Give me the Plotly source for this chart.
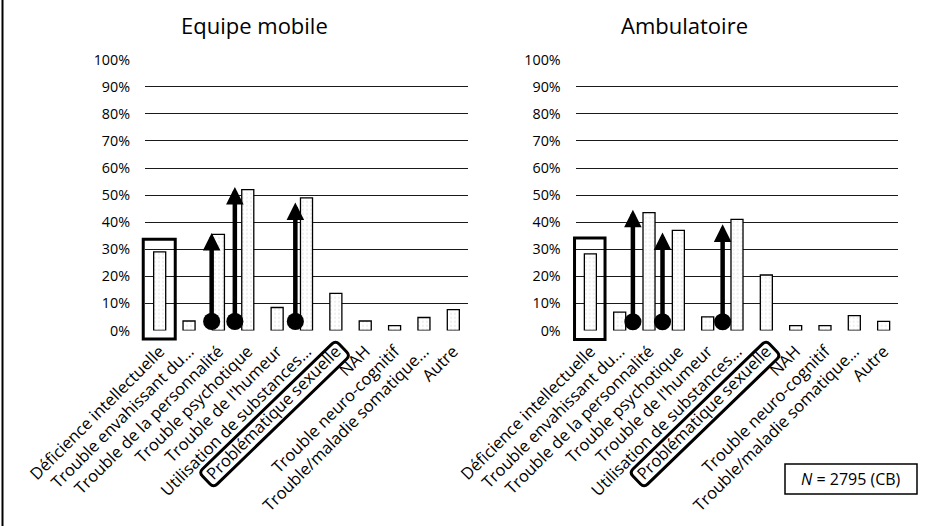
import plotly.graph_objects as go
import math

# ---------------- data ----------------
categories = [
    "Déficience intellectuelle",
    "Trouble envahissant du...",
    "Trouble de la personnalité",
    "Trouble psychotique",
    "Trouble de l'humeur",
    "Utilisation de substances...",
    "Problématique sexuelle",
    "NAH",
    "Trouble neuro-cognitif",
    "Trouble/maladie somatique...",
    "Autre",
]
equipe_mobile = [0.29, 0.035, 0.355, 0.52, 0.085, 0.49, 0.137, 0.035, 0.018, 0.048, 0.077]
ambulatoire = [0.283, 0.068, 0.435, 0.37, 0.05, 0.41, 0.205, 0.018, 0.018, 0.055, 0.034]
y_ticks = [0.0, 0.1, 0.2, 0.3, 0.4, 0.5, 0.6, 0.7, 0.8, 0.9, 1.0]
titles = ["Equipe mobile", "Ambulatoire"]

# arrows: (x in category units, start value, tip value)
arrows_em = [(1.77, 0.028, 0.36), (2.56, 0.028, 0.53), (4.62, 0.028, 0.473)]
arrows_amb = [(1.45, 0.027, 0.446), (2.46, 0.027, 0.362), (4.51, 0.027, 0.392)]
# highlight rectangle around first category: (x0, x1, y0, y1)
highlight_em = (-0.56, 0.53, -0.031, 0.337)
highlight_amb = (-0.54, 0.50, -0.033, 0.342)
label_box_cat = 6
n_label = "<i>N</i> = 2795 (CB)"

# ---------------- layout geometry ----------------
W, H = 945, 526
x_range = [-0.5, 10.5]
y_range = [0.0, 1.0]
dom_x1 = [145.0 / W, 468.0 / W]
dom_x2 = [575.7 / W, 898.3 / W]
dom_y = [(H - 330.5) / H, (H - 59.7) / H]

FONT = "Open Sans"

fig = go.Figure()

bar_style = dict(
    marker=dict(
        color="white",
        line=dict(color="black", width=1.3),
        pattern=dict(shape=".", fgcolor="#b0b0b0", bgcolor="white", size=4, solidity=0.12),
    ),
    showlegend=False,
    width=0.41,
)
xs = list(range(len(categories)))
fig.add_trace(go.Bar(x=xs, y=equipe_mobile, xaxis="x", yaxis="y", **bar_style))
fig.add_trace(go.Bar(x=xs, y=ambulatoire, xaxis="x2", yaxis="y2", **bar_style))

xaxis_common = dict(
    range=x_range,
    tickmode="array",
    tickvals=xs,
    ticktext=categories,
    tickangle=-45,
    showgrid=False,
    zeroline=False,
    showline=False,
    ticks="",
    automargin=False,
    ticklabelstandoff=7,
    tickfont=dict(family=FONT, size=16.5, color="black"),
)
yaxis_common = dict(
    range=y_range,
    tickmode="array",
    tickvals=y_ticks,
    tickformat=".0%",
    showgrid=True,
    gridcolor="#1a1a1a",
    gridwidth=1,
    zeroline=False,
    showline=False,
    ticks="",
    automargin=False,
    ticklabelstandoff=14,
    tickfont=dict(family=FONT, size=14.3, color="black"),
    domain=dom_y,
)

fig.update_layout(
    width=W,
    height=H,
    margin=dict(l=0, r=0, t=0, b=0, autoexpand=False),
    paper_bgcolor="white",
    plot_bgcolor="white",
    bargap=0.59,
    xaxis=dict(domain=dom_x1, anchor="y", **xaxis_common),
    yaxis=dict(anchor="x", **yaxis_common),
    xaxis2=dict(domain=dom_x2, anchor="y2", **xaxis_common),
    yaxis2=dict(anchor="x2", **yaxis_common),
)


def data_to_paper(dom, xv, yv):
    fx = (xv - x_range[0]) / (x_range[1] - x_range[0])
    fy = (yv - y_range[0]) / (y_range[1] - y_range[0])
    return dom[0] + fx * (dom[1] - dom[0]), dom_y[0] + fy * (dom_y[1] - dom_y[0])


annotations = []
shapes = []

# titles
for i, t in enumerate(titles):
    cx = [254.5, 684.0][i] / W
    annotations.append(dict(
        text=t, x=cx, y=1 - 25 / H, xref="paper", yref="paper",
        xanchor="center", yanchor="middle", showarrow=False,
        font=dict(family=FONT, size=22, color="black"),
    ))

# arrows
for arrows, xr, yr in [(arrows_em, "x", "y"), (arrows_amb, "x2", "y2")]:
    for ax_, y0, y1 in arrows:
        annotations.append(dict(
            x=ax_, y=y1, ax=ax_, ay=y0, xref=xr, yref=yr, axref=xr, ayref=yr,
            text="", showarrow=True, arrowhead=2, arrowsize=0.78, arrowwidth=4.5,
            arrowcolor="black", arrowside="end+start", startarrowhead=6,
            startarrowsize=0.95, standoff=0, startstandoff=0,
        ))

# highlight rectangles (converted to paper so they are not clipped)
for (x0, x1, y0, y1), dom in [(highlight_em, dom_x1), (highlight_amb, dom_x2)]:
    px0, py0 = data_to_paper(dom, x0, y0)
    px1, py1 = data_to_paper(dom, x1, y1)
    shapes.append(dict(type="rect", xref="paper", yref="paper", x0=px0, x1=px1, y0=py0, y1=py1,
                       line=dict(color="black", width=3), fillcolor="rgba(0,0,0,0)", layer="above"))


# rotated rounded box around "Problématique sexuelle" label
def cat_px(dom, idx):
    frac = (idx - x_range[0]) / (x_range[1] - x_range[0])
    return (dom[0] + frac * (dom[1] - dom[0])) * W


def rounded_rot_box(cx, cy, L, Wd, ang_deg, r):
    a = math.radians(ang_deg)
    u = (math.cos(a), -math.sin(a))
    v = (math.sin(a), math.cos(a))
    hl, hw = L / 2, Wd / 2

    def P(s, t):
        X = cx + s * u[0] + t * v[0]
        Y = cy + s * u[1] + t * v[1]
        return f"{X / W:.5f},{1 - Y / H:.5f}"

    path = (
        f"M{P(-hl + r, -hw)} L{P(hl - r, -hw)} Q{P(hl, -hw)} {P(hl, -hw + r)} "
        f"L{P(hl, hw - r)} Q{P(hl, hw)} {P(hl - r, hw)} "
        f"L{P(-hl + r, hw)} Q{P(-hl, hw)} {P(-hl, hw - r)} "
        f"L{P(-hl, -hw + r)} Q{P(-hl, -hw)} {P(-hl + r, -hw)} Z"
    )
    return path


for dom in [dom_x1, dom_x2]:
    cxp = cat_px(dom, label_box_cat) - 61.3
    shapes.append(dict(type="path", xref="paper", yref="paper",
                       path=rounded_rot_box(cxp, 414.0, 190, 21, 44, 5),
                       line=dict(color="black", width=3), fillcolor="rgba(0,0,0,0)"))

# N box
shapes.append(dict(type="rect", xref="paper", yref="paper",
                   x0=785 / W, x1=917 / W, y0=1 - 494 / H, y1=1 - 464 / H,
                   line=dict(color="black", width=1.5), fillcolor="white"))
annotations.append(dict(text=n_label, x=851 / W, y=1 - 479 / H, xref="paper", yref="paper",
                        showarrow=False, xanchor="center", yanchor="middle",
                        font=dict(family=FONT, size=16, color="black")))

# left border line
shapes.append(dict(type="line", xref="paper", yref="paper", x0=2.5 / W, x1=2.5 / W, y0=0, y1=1,
                   line=dict(color="black", width=2)))

fig.update_layout(annotations=annotations, shapes=shapes)
fig.write_html(
    "out.html",
    config={"displayModeBar": False},
    post_script="document.body.style.margin='0';",
)
